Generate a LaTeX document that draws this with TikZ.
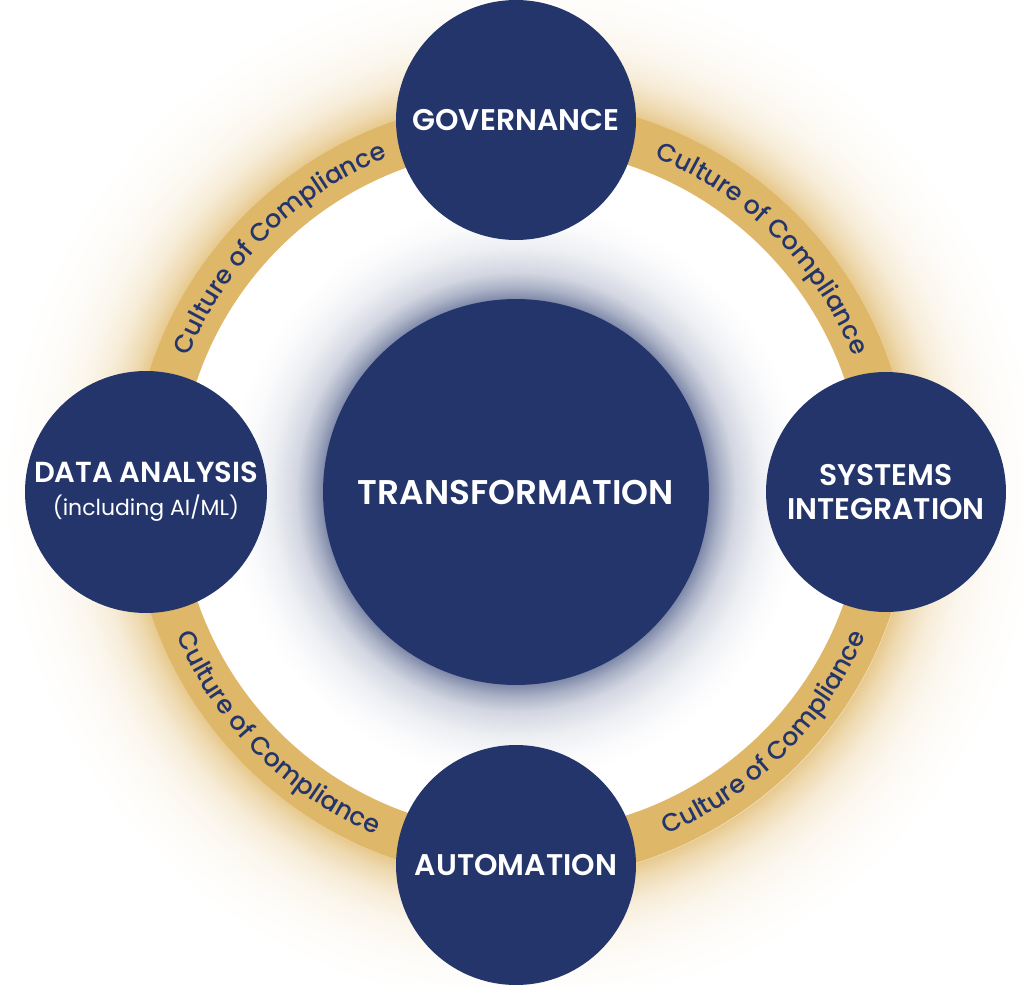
\documentclass[tikz,border=0pt]{standalone}
\usepackage{fontspec}
\setmainfont{Poppins}[BoldFont={Poppins SemiBold}]
\newfontfamily\ringfont{Poppins Medium}
\usetikzlibrary{decorations.text}

\definecolor{navy}{HTML}{23356B}
\definecolor{gold}{HTML}{DFB768}

\pgfdeclareradialshading{goldglow}{\pgfpointorigin}{color(0bp)=(white); color(18.7bp)=(white); color(18.75bp)=(gold!75!white); color(19.47bp)=(gold!50!white); color(20.43bp)=(gold!27!white); color(21.63bp)=(gold!12!white); color(23.08bp)=(gold!4!white); color(25bp)=(white); color(50bp)=(white)}
\pgfdeclareradialshading{navyglow}{\pgfpointorigin}{color(0bp)=(navy); color(16.64bp)=(navy!58!white); color(17.67bp)=(navy!38!white); color(18.97bp)=(navy!20!white); color(21.12bp)=(navy!8!white); color(23.28bp)=(navy!2!white); color(25bp)=(white); color(50bp)=(white)}

\tikzset{
	hub/.style={circle, fill=navy, text=white, inner sep=0pt, align=center, minimum size=4.8cm, font=\bfseries\fontsize{17}{19}\selectfont},
	ringtext/.style={decorate, decoration={text along path, text align=center, text color=navy, text={|\ringfont\fontsize{14.4}{14.4}\selectfont|Culture of Compliance}}}
}

\begin{document}
\begin{tikzpicture}[x=0.02cm, y=0.02cm]
	\useasboundingbox[fill=white] (-516, -492) rectangle (508, 492);
	\coordinate (ring) at (5, 2);
	\shade[shading=goldglow] (ring) circle (520);
	\shade[shading=navyglow] (0, 0) circle (290);
	\draw[gold, line width=0.96cm] (ring) circle (366);

	\path[ringtext] ([shift={(180:358)}]ring) arc[start angle=180, end angle=90, radius=358];
	\path[ringtext] ([shift={(90:358)}]ring) arc[start angle=90, end angle=0, radius=358];
	\path[ringtext] ([shift={(180:374)}]ring) arc[start angle=180, end angle=270, radius=374];
	\path[ringtext] ([shift={(270:374)}]ring) arc[start angle=270, end angle=360, radius=374];

	\node[hub, minimum size=7.72cm, font=\bfseries\fontsize{19.5}{21}\selectfont] (trans) at (0, 0) {TRANSFORMATION};
	\node[hub] (gov) at (0, 372) {GOVERNANCE};
	\node[hub] (sys) at (370, 0) {SYSTEMS\\INTEGRATION};
	\node[hub] (auto) at (0, -373) {AUTOMATION};
	\node[hub, minimum size=4.84cm, font=\bfseries\fontsize{16.5}{19}\selectfont] (data) at (-370, 0) {DATA ANALYSIS\\{\mdseries\fontsize{12.5}{15}\selectfont (including AI/ML)}};
\end{tikzpicture}
\end{document}
